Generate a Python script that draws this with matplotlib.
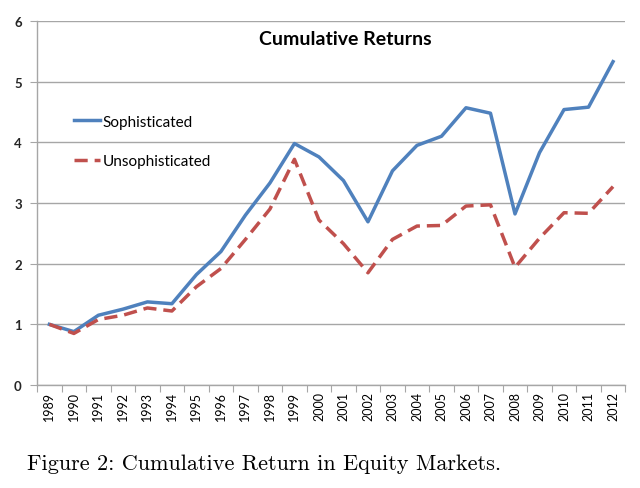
import matplotlib
matplotlib.use("Agg")
import matplotlib.pyplot as plt
import numpy as np

years = [str(y) for y in range(1989, 2013)]
sophisticated = [1.00, 0.88, 1.15, 1.25, 1.37, 1.34, 1.82, 2.20, 2.80, 3.33,
                 3.98, 3.76, 3.37, 2.69, 3.53, 3.95, 4.10, 4.57, 4.48, 2.82,
                 3.83, 4.54, 4.58, 5.33]
unsophisticated = [1.00, 0.85, 1.08, 1.15, 1.27, 1.22, 1.62, 1.92, 2.40, 2.90,
                   3.72, 2.72, 2.33, 1.85, 2.40, 2.62, 2.63, 2.95, 2.97, 1.94,
                   2.42, 2.84, 2.83, 3.27]

BLUE = "#4F81BD"
RED = "#C0504D"
GRID = "#A6A6A6"
FONT = ["Lato", "DejaVu Sans"]

fig = plt.figure(figsize=(6.4, 4.89), dpi=100)
ax = fig.add_axes([0.058, 0.2106, 0.919, 0.7444])

x = np.arange(len(years))
ax.plot(x, sophisticated, color=BLUE, lw=2.5, label="Sophisticated")
ax.plot(x, unsophisticated, color=RED, lw=2.5, dashes=(3.8, 2.0), label="Unsophisticated")

ax.set_xlim(-0.5, len(years) - 0.5)
ax.set_ylim(0, 6)
ax.set_yticks(range(0, 7))
ax.yaxis.grid(True, color=GRID, lw=1.0)
ax.set_axisbelow(True)

# category boundaries as ticks, labels at centers
ax.set_xticks(np.arange(-0.5, len(years)), minor=False)
ax.set_xticklabels([])
ax.set_xticks(x, minor=True)
ax.set_xticklabels(years, minor=True, rotation=90, fontsize=9, family=FONT)
ax.tick_params(axis="x", which="major", length=5, color=GRID, direction="out")
ax.tick_params(axis="x", which="minor", length=0, pad=4)
ax.tick_params(axis="y", length=5, color=GRID, pad=6)
for lab in ax.get_yticklabels():
    lab.set_fontweight("bold")
    lab.set_fontsize(9.5)
    lab.set_family(FONT)
    lab.set_color("#262626")

for s in ["top", "right"]:
    ax.spines[s].set_visible(False)
for s in ["left", "bottom"]:
    ax.spines[s].set_color(GRID)
    ax.spines[s].set_linewidth(1.0)

ax.text(0.524, 0.952, "Cumulative Returns", transform=ax.transAxes, ha="center",
        va="center", fontsize=14, fontweight="bold", family=FONT)

ax.legend(loc="upper left", bbox_to_anchor=(0.04, 0.78), frameon=False,
          prop={"family": FONT, "size": 11}, handlelength=1.7,
          handletextpad=0.15, labelspacing=1.65)

fig.text(0.042, 0.05, "Figure 2: Cumulative Return in Equity Markets.",
         ha="left", va="center", fontsize=16, family="cmr10")

fig.savefig("out.png", dpi=100, facecolor="white")
